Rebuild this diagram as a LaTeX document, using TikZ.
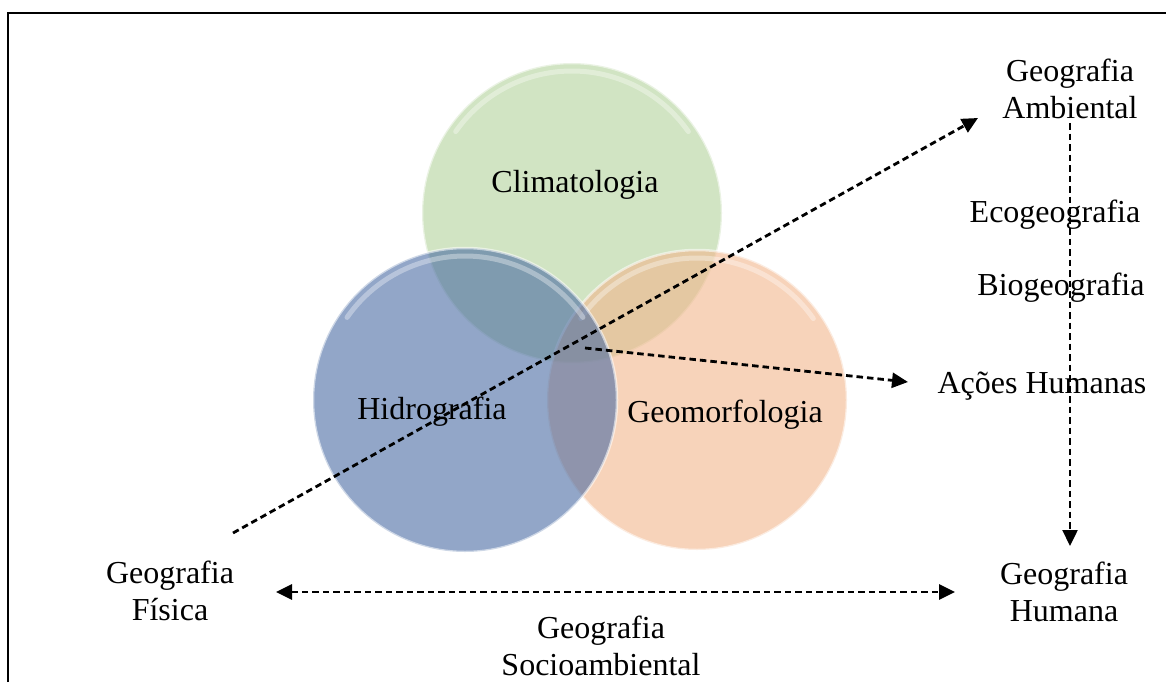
\documentclass[tikz,border=0pt]{standalone}
\usepackage{fontspec}
\setmainfont{Liberation Serif}
\usetikzlibrary{arrows.meta}
\definecolor{greenc}{RGB}{209,228,195}
\definecolor{orangec}{RGB}{242,182,140}
\definecolor{bluec}{RGB}{73,107,163}
\begin{document}
\begin{tikzpicture}[x=1pt,y=-1pt,
  lbl/.style={font=\fontsize{32}{37}\selectfont, align=center, inner sep=0pt},
  dashline/.style={line width=2.8pt, dash pattern=on 6.5pt off 4pt},
  mytip/.tip={Triangle[length=16pt,width=15pt]},
  bubble/.style={circle, inner sep=0pt, minimum size=300pt, draw=white, draw opacity=0.55, line width=2.5pt},
  gloss/.style={white, line width=5pt, draw opacity=0.35, line cap=round}]
\useasboundingbox (0,0) rectangle (1166,682);
\draw[line width=2pt] (8,682) -- (8,13) -- (1166,13);
% circles
\node[bubble, fill=greenc] (clim) at (572,213) {};
\draw[gloss] (clim.center) ++(215:142) arc[start angle=215, end angle=325, radius=142];
\node[bubble, fill=orangec, fill opacity=0.6] (geo) at (697,400) {};
\draw[gloss] (geo.center) ++(215:142) arc[start angle=215, end angle=325, radius=142];
\node[bubble, fill=bluec, fill opacity=0.6, minimum size=304pt] (hid) at (465,400) {};
\draw[gloss] (hid.center) ++(215:144) arc[start angle=215, end angle=325, radius=144];
% labels
\node[lbl] (climl) at (575,185) {Climatologia};
\node[lbl] (hidl) at (432,412) {Hidrografia};
\node[lbl] (geol) at (725,415) {Geomorfologia};
\node[lbl] (amb) at (1070,89) {Geografia\\Ambiental};
\node[lbl] (eco) at (1055,215) {Ecogeografia};
\node[lbl] (bio) at (1061,288) {Biogeografia};
\node[lbl] (acoes) at (1042,386) {Ações Humanas};
\node[lbl] (hum) at (1064,592) {Geografia\\Humana};
\node[lbl] (fis) at (170,591) {Geografia\\Física};
\node[lbl] (socio) at (601,646) {Geografia\\Socioambiental};
% connector end points
\coordinate (dA) at (233,533);
\coordinate (dB) at (978,118);
\coordinate (vA) at (1070,123);
\coordinate (vB) at (1070,546);
\coordinate (hA) at (276,592);
\coordinate (hB) at (955,592);
\coordinate (aA) at (585,348);
\coordinate (aB) at (908,382);
% connectors
\draw[dashline, -mytip] (dA) -- (dB);
\draw[dashline, line width=2.4pt, -mytip] (vA) -- (vB);
\draw[dashline, mytip-mytip] (hA) -- (hB);
\draw[dashline, -mytip] (aA) -- (aB);
\end{tikzpicture}
\end{document}
